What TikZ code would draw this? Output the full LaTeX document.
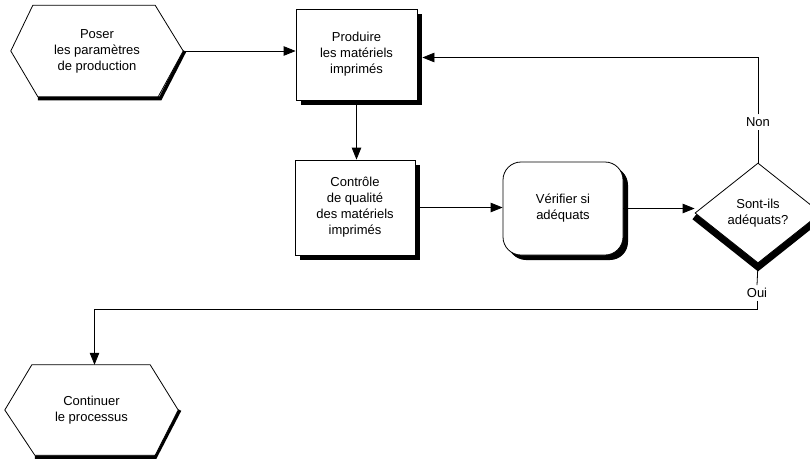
\documentclass[tikz,border=0pt]{standalone}
\usepackage{fontspec}
\setmainfont{Liberation Sans}
\usetikzlibrary{arrows.meta,shapes.geometric,calc,shadows,backgrounds}
\begin{document}
\begin{tikzpicture}[x=1pt,y=-1pt,
  txt/.style={font=\fontsize{13}{16}\selectfont, align=center, inner sep=0pt},
  edge/.style={line width=0.8pt, draw=black},
  arr/.style={edge, -{Triangle[length=12pt,width=9.5pt]}},
  boxnode/.style={txt, draw, fill=white, line width=0.8pt,
    drop shadow={shadow xshift=5pt, shadow yshift=-5pt, fill=black, opacity=1}},
  roundnode/.style={boxnode, rounded corners=18pt,
    drop shadow={shadow xshift=4pt, shadow yshift=-4pt, fill=black, opacity=1}},
  hexnode/.style={txt, minimum width=172pt, minimum height=91pt},
  hexline/.style={line width=0.8pt, fill=white},
  hexshadow/.style={line width=3.5pt, line join=miter},
  decnode/.style={txt, shape=diamond, draw, fill=white, line width=0.8pt,
    minimum width=126pt, minimum height=100pt, aspect=1.26},
  decshadow/.style={line width=7pt, line join=miter},
  lbl/.style={font=\fontsize{13}{16}\selectfont, inner sep=3pt}
]
\useasboundingbox (0,0) rectangle (810,464);
\clip (0,0) rectangle (810,464);

% start and end hexagons
\node[hexnode] (h1) at (97,51) {Poser\\les paramètres\\de production};
\node[hexnode, minimum width=173pt, minimum height=90pt] (h2) at (91.5,410) {Continuer\\le processus};
\begin{scope}[on background layer]
\draw[hexshadow] ($(h1.south west)+(27,2)$) -- ($(h1.south east)+(-23,2)$) -- ($(h1.east)+(1.5,0)$);
\draw[hexline] (h1.west) -- ($(h1.north west)+(22,0)$) -- ($(h1.north east)+(-28,0)$) -- (h1.east)
  -- ($(h1.south east)+(-25,0)$) -- ($(h1.south west)+(27,0)$) -- cycle;
\draw[hexshadow] ($(h2.south west)+(30,2)$) -- ($(h2.south east)+(-23,2)$) -- ($(h2.east)+(1.5,0)$);
\draw[hexline] (h2.west) -- ($(h2.north west)+(27,0)$) -- ($(h2.north east)+(-28,0)$) -- (h2.east)
  -- ($(h2.south east)+(-23,0)$) -- ($(h2.south west)+(30,0)$) -- cycle;
\end{scope}

% boxes
\node[boxnode, minimum width=121pt, minimum height=91pt] (b1) at (356.5,54.5)
  {Produire\\les matériels\\imprimés};
\node[boxnode, minimum width=120pt, minimum height=95pt] (b2) at (355,207.5)
  {Contrôle\\de qualité\\des matériels\\imprimés};
\node[roundnode, minimum width=120pt, minimum height=93pt] (r) at (563,208.5)
  {Vérifier si\\adéquats};

% decision
\node[decnode] (d) at (758,213) {Sont-ils\\adéquats?};
\begin{scope}[on background layer]
\draw[decshadow] ($(d.west)+(0,3.5)$) -- ($(d.south)+(0,3.5)$) -- ($(d.east)+(0,3.5)$);
\end{scope}

% labels
\node[lbl] (non) at (758,122) {Non};
\node[lbl] (oui) at (757,293) {Oui};
\coordinate (k1) at ($(b1.east)+(5,3)$);
\coordinate (k2) at (0,309);

% connectors
\draw[arr] (h1.east) -- (h1.east -| b1.west);
\draw[arr] (b1.south) -- (b1.south |- b2.north);
\draw[arr] (b2.east) -- (b2.east -| r.west);
\draw[arr] (r.east) -- (r.east -| d.west);
\draw[edge] (d.north) -- (non.south);
\draw[arr] (non.north) |- (k1);
\draw[edge] (d.south) -- (oui.north);
\draw[arr] (oui.south) -- (oui.south |- k2) -| ($(h2.north)+(3,0)$);
\end{tikzpicture}
\end{document}
